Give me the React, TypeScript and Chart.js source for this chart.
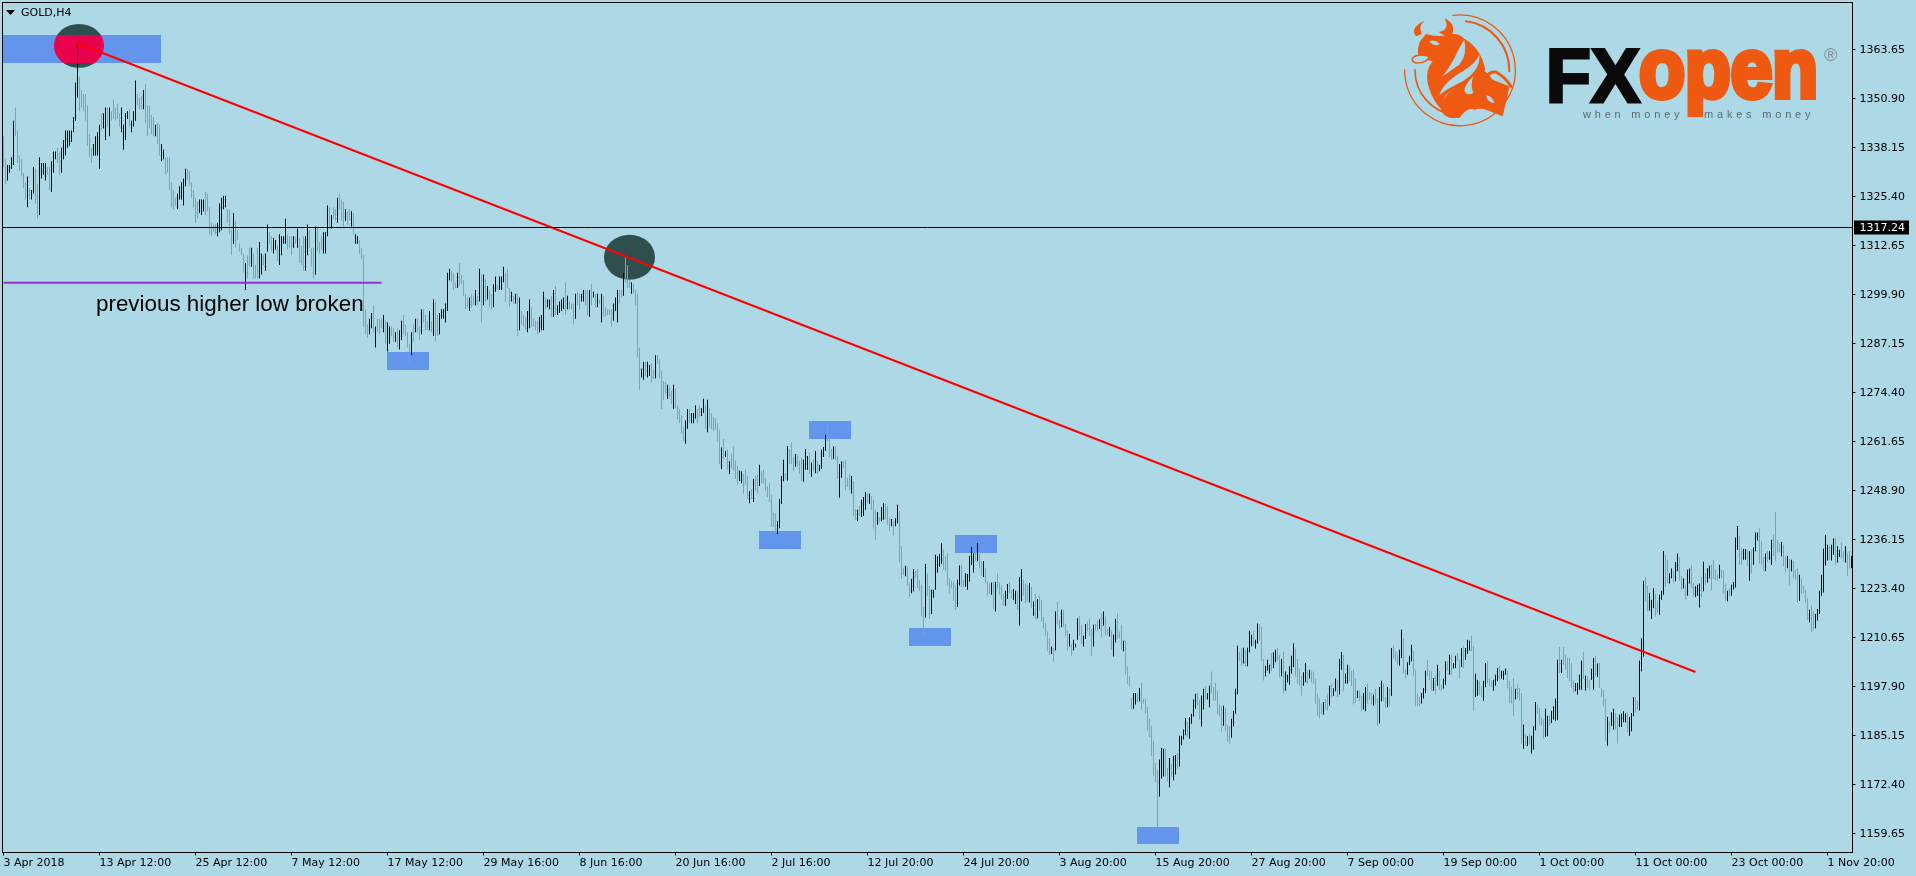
import React, { useEffect, useRef } from "react";
import { Chart, registerables } from "chart.js";

Chart.register(...registerables);

// Each row is [high, low, isUp]; one list per 48 H4 bars, i.e. per time-axis tick.
const bars01 = [[1341,1333,0],[1335,1328.5,0],[1333.5,1329.5,1],[1333.5,1331.5,1],[1335.5,1332.5,1],[1345,1333.5,1],[1348.5,1341,0],[1342.5,1334,0],[1336,1332,0],[1335,1330.5,0],[1331.5,1327.5,0],[1329,1324.5,0],[1330.5,1322.5,1],[1327.5,1324.5,0],[1327,1324.5,1],[1333,1326,1],[1332.5,1323.5,0],[1328.5,1319.5,0],[1335.5,1320.5,1],[1334,1330,1],[1334,1331,1],[1334,1329.5,1],[1333,1331,0],[1333,1327,0],[1334.5,1326.5,1],[1337,1331.5,1],[1337,1335,1],[1338,1334,0],[1337,1331,0],[1338,1331.5,1],[1340,1335,1],[1342.5,1336,1],[1342.5,1338,1],[1342.5,1338.5,1],[1342.5,1339.5,1],[1346,1342,1],[1355,1345,1],[1365.2,1351,1],[1356.5,1347.5,0],[1353,1348.5,0],[1352,1347.5,0],[1352,1345,0],[1349,1338.5,0],[1341.5,1335.5,0],[1338,1334,0],[1339,1336,1],[1341,1336,1],[1342,1336,1]];
const bars02 = [[1344,1332.5,1],[1347,1342.5,0],[1347,1343,1],[1348.5,1340,1],[1348.5,1343.5,0],[1348.5,1341,1],[1347.5,1345,0],[1350.5,1345.5,0],[1348.5,1345,0],[1349.5,1345.5,0],[1347,1343.5,0],[1348.5,1342,1],[1344,1337.5,1],[1347,1340,1],[1347.5,1345.5,1],[1348,1343.5,0],[1345,1342,1],[1347.5,1343.5,1],[1355.5,1345,1],[1352,1349,0],[1351,1348,0],[1351.5,1348,0],[1353,1348,1],[1354.5,1344.5,0],[1349,1341,0],[1349,1343,0],[1346.5,1341.5,0],[1346,1341,0],[1344,1341,1],[1344.5,1339,0],[1344,1336,0],[1339,1334.5,1],[1337.5,1335,1],[1335.5,1331,0],[1335.5,1331.5,0],[1335.5,1327,0],[1329,1322.5,0],[1327,1322,0],[1325,1323,0],[1326,1322,1],[1328,1324.5,1],[1329,1324.5,1],[1330,1323,1],[1332.5,1328,1],[1332.5,1329.5,0],[1332,1328,0],[1329,1325,0],[1327,1322.5,0]];
const bars03 = [[1325,1318.5,0],[1324,1319.5,0],[1324.5,1321,1],[1324.5,1320.5,1],[1324.5,1321.5,1],[1326.5,1320.5,0],[1326,1321.5,0],[1322.5,1315.5,0],[1318.5,1315,0],[1318,1316,0],[1318,1315.5,0],[1318.5,1315,1],[1323.5,1316,1],[1325,1316.5,1],[1325.5,1322,1],[1325.5,1322.5,1],[1322,1318.5,0],[1322,1315.5,0],[1316.5,1310,0],[1321,1313,1],[1319,1312,0],[1316.5,1314,0],[1313,1311,0],[1312,1310,0],[1310.5,1305.5,0],[1308,1301,1],[1310,1304,0],[1312,1307,0],[1312,1307,1],[1310.5,1304,0],[1307.5,1304,0],[1312,1304,0],[1313.5,1304,1],[1310.5,1305,1],[1310,1307.5,0],[1310.5,1306,1],[1318,1311,1],[1316,1313,0],[1315,1311,0],[1314.5,1310.5,1],[1314,1311.5,1],[1312.5,1308.5,0],[1315.5,1307.5,1],[1315,1310,1],[1315,1313,1],[1319.5,1313,1],[1315.5,1311.5,0],[1315,1312,0]];
const bars04 = [[1315,1310,0],[1315,1312,1],[1315,1313,0],[1317,1312,1],[1314.5,1308,0],[1312.5,1307.5,0],[1315,1306,0],[1315,1306,1],[1318,1310,1],[1316.5,1312,0],[1312,1307,0],[1312,1304,0],[1317.5,1305,1],[1317.5,1311,0],[1313.5,1310.5,0],[1315,1311.5,0],[1316,1310.5,1],[1316,1310.5,1],[1323,1315,1],[1322.5,1317,0],[1320.5,1317,1],[1322.5,1319.5,0],[1322,1319,0],[1325,1318.5,1],[1326,1322,0],[1324.5,1319,0],[1324,1317,0],[1322,1319,1],[1321.5,1318,0],[1322,1319,0],[1321.5,1317.5,1],[1321,1315.5,0],[1315.5,1313,1],[1315,1313,1],[1314,1310.5,0],[1312,1309,0],[1310,1291.5,0],[1296,1289.5,0],[1292,1288.5,0],[1293.5,1289.5,1],[1295,1291,1],[1297,1290,0],[1291.5,1286,1],[1293.5,1290,0],[1293.5,1289.5,0],[1293.5,1291,0],[1294.5,1290,1],[1293,1287,0]];
const bars05 = [[1292.5,1285,1],[1291.5,1287,1],[1291.5,1289,0],[1291,1287.5,0],[1290,1287.5,1],[1291,1286,0],[1290.5,1285.5,1],[1293,1288,1],[1294.5,1289.5,0],[1292,1289,0],[1290,1286,0],[1287,1282,0],[1290,1284,1],[1292,1287.5,0],[1293.5,1290,1],[1293.5,1290,0],[1291.5,1288,0],[1296,1289.5,1],[1296,1292.5,0],[1294.5,1290.5,0],[1293,1290.5,0],[1295.5,1290.5,1],[1293,1290,0],[1298.5,1289,1],[1298,1287.5,0],[1294.5,1289,0],[1295,1289.5,1],[1296,1293.5,1],[1296,1293.5,1],[1297.5,1292.5,1],[1305.5,1295.5,1],[1306.5,1303.5,1],[1306,1303,0],[1305.5,1301,0],[1303,1301.5,0],[1305.5,1301.5,1],[1308,1302,0],[1305,1302.5,0],[1303.5,1299.5,0],[1300,1296,0],[1299,1296.5,0],[1299,1295.5,1],[1300,1296.5,0],[1299.5,1297,0],[1301,1297,1],[1299.5,1297,0],[1306.5,1298,1],[1305,1292.5,0]];
const bars06 = [[1305,1297,1],[1304,1298,0],[1302,1298.5,1],[1301,1296.5,0],[1300,1296,0],[1302.5,1296.5,1],[1304.5,1300.5,1],[1302.5,1301,0],[1304.5,1301,1],[1304.5,1301,1],[1307,1303,1],[1305.5,1298,0],[1306.5,1301.5,0],[1301.5,1296.5,0],[1300.5,1298,1],[1299.5,1297.5,0],[1300,1297.5,1],[1300,1289,0],[1299,1290.5,1],[1295.5,1292,0],[1294.5,1291.5,0],[1294,1290.5,0],[1295.5,1290,1],[1298.5,1291,1],[1296.5,1291.5,0],[1293.5,1291.5,0],[1293,1290.5,0],[1293,1289.5,0],[1294,1290,1],[1294.5,1290.5,1],[1300.5,1290.5,1],[1299,1296,0],[1298.5,1296.5,1],[1298.5,1296,1],[1299.5,1294,0],[1301,1294,1],[1302,1294.5,0],[1297,1294.5,1],[1298,1295,1],[1298.5,1295.5,1],[1299,1296,1],[1303,1294.5,0],[1299.5,1296,1],[1298,1296,0],[1297.5,1296,0],[1297.5,1292,0],[1300,1293.5,1],[1300.5,1297,0]];
const bars07 = [[1300,1296,0],[1300,1298,1],[1301,1298,1],[1301,1297,0],[1301,1294.5,0],[1301,1294,1],[1302.5,1297,0],[1300.5,1299,1],[1300,1296.5,0],[1300,1296.5,1],[1298.5,1297.5,0],[1300,1292.5,1],[1299.5,1294,0],[1296.5,1294,0],[1296,1294.5,0],[1296,1294.5,0],[1296,1291.5,0],[1297.5,1293,1],[1299,1295.5,1],[1301,1292.5,1],[1301,1297.5,0],[1301,1299,0],[1305.5,1299.5,1],[1309.5,1303,0],[1307.5,1301.5,0],[1303.5,1301.5,0],[1303,1300,1],[1302.5,1300,0],[1301,1297,0],[1300,1283.5,0],[1286,1275,0],[1280.5,1278.2,1],[1282.3,1277.6,1],[1282.3,1278.6,0],[1282.3,1278.2,1],[1281.5,1278.6,1],[1281.8,1277,0],[1280.5,1277.9,0],[1284,1278,1],[1284,1281.8,0],[1283,1278,0],[1280,1270,0],[1277.3,1272.4,0],[1277,1274,0],[1276.3,1272.6,1],[1275.9,1272.8,0],[1274.8,1271.4,0],[1276.3,1270.1,1]];
const bars08 = [[1275.3,1270.2,0],[1271,1267.2,0],[1270,1266.3,0],[1268.3,1263.7,0],[1265.2,1261.7,0],[1267,1261,1],[1270,1264.9,1],[1270,1266.3,0],[1269,1266.3,1],[1269,1266.3,1],[1271,1267.5,1],[1270,1266.3,0],[1271,1268,0],[1270.2,1268.2,1],[1272.7,1269,1],[1271,1264.9,0],[1272.4,1264,1],[1270.3,1265.3,0],[1269,1264.8,0],[1268,1264.2,0],[1267.6,1264.6,0],[1266.3,1261.5,0],[1264.6,1255.7,0],[1260,1254.4,1],[1262.2,1256.8,0],[1259.1,1257.5,1],[1259.4,1254.2,0],[1256.4,1253.1,1],[1258.5,1254.6,0],[1260.3,1254,0],[1256.6,1251.8,0],[1255.2,1250.3,0],[1254,1251.3,1],[1253.8,1250.7,1],[1253.1,1248,0],[1254.2,1250.3,0],[1252.6,1246.6,0],[1248.6,1245.5,1],[1249.2,1246.6,0],[1251.8,1245.8,1],[1252.6,1248.7,0],[1252.9,1248.1,0],[1255.5,1250,1],[1253.8,1250.7,0],[1254.2,1250.5,0],[1252,1248.6,0],[1249.9,1247.1,0],[1250.7,1245.8,0]];
const bars09 = [[1247.7,1239.3,0],[1243.1,1239.3,0],[1242.9,1238,0],[1240.9,1237.5,1],[1246.6,1239,1],[1252.6,1245.3,1],[1256.8,1251.2,1],[1253.3,1251.6,0],[1260.4,1251.4,1],[1259.6,1255.7,0],[1261.3,1255.7,0],[1257.5,1253.8,0],[1258.3,1255,1],[1258.1,1255.2,0],[1256.6,1253.1,0],[1257.4,1251.3,0],[1256.8,1251.1,1],[1259.6,1254.2,1],[1257.8,1254.2,1],[1258.7,1253.1,0],[1256.1,1252.4,1],[1257,1253.8,0],[1259.1,1253.3,1],[1256.5,1253.1,0],[1255.5,1253.8,1],[1259.4,1254.4,1],[1260.1,1257.5,1],[1263.3,1259.1,1],[1265.9,1261.7,0],[1263,1257.5,0],[1259.6,1256.8,0],[1260.3,1257,1],[1260.3,1256.8,0],[1257.7,1251.8,0],[1255.7,1246.9,1],[1256.4,1252.1,1],[1256.4,1254.6,0],[1256.8,1248.8,0],[1252.1,1249.7,0],[1253.3,1249,0],[1252.6,1248,1],[1251.3,1242.2,0],[1244,1241.2,0],[1243.8,1240.9,1],[1244.8,1242.2,0],[1246.4,1241.9,1],[1247.1,1242.2,1],[1248.4,1243.8,1]];
const bars10 = [[1248,1245.5,0],[1248,1245.3,1],[1247.4,1243.8,0],[1246.4,1238.9,0],[1243.8,1236,0],[1243.2,1239.9,1],[1241.9,1240.5,0],[1244.5,1240.8,1],[1245.5,1241.2,1],[1245.4,1241.4,0],[1244.8,1239.9,0],[1241.6,1238.2,0],[1241.4,1239.5,1],[1240.8,1237.1,0],[1241.6,1239.5,1],[1245.1,1240.2,1],[1243.5,1230.1,0],[1234.4,1225.8,0],[1228.6,1226.9,0],[1229.2,1226.5,1],[1228.9,1224.1,0],[1224.7,1221,0],[1225.8,1222.1,1],[1228.4,1222.6,1],[1227.9,1226.2,0],[1228.4,1223.4,0],[1225.6,1222.6,0],[1224.3,1216,0],[1218.5,1211.1,0],[1229.7,1215.7,1],[1227.3,1221.4,0],[1224,1215.4,0],[1223,1216.7,1],[1223,1220.9,1],[1232.1,1223,1],[1231.7,1227.5,1],[1232.3,1229,1],[1235.1,1229.7,1],[1233.4,1228.2,0],[1231.7,1227.8,0],[1232.5,1224,0],[1226,1222,0],[1225.3,1223.4,0],[1225.1,1220.1,0],[1224.3,1217.8,0],[1225.6,1218.5,1],[1229.3,1224.1,1],[1229.5,1223.8,0]];
const bars11 = [[1225.6,1223.7,0],[1227.3,1223.8,1],[1227.1,1223,1],[1231.8,1225.1,1],[1234.1,1229.5,1],[1232.5,1227.5,1],[1233.4,1230.4,0],[1235.1,1230.4,1],[1233.2,1228.6,0],[1230.4,1226.6,0],[1230.5,1226.3,1],[1228.6,1224.7,0],[1225.3,1221.5,0],[1224.7,1221.9,0],[1224.9,1221.7,1],[1225.1,1218,0],[1225,1217.3,1],[1227.3,1223.4,0],[1224.9,1221.7,0],[1224,1220.4,0],[1221.9,1218.8,0],[1222.7,1218.8,1],[1224.5,1220.6,1],[1225,1222.1,0],[1223,1220.8,0],[1223.2,1220.4,1],[1222.7,1219.3,1],[1222.6,1217.8,0],[1226.3,1213.6,1],[1228.4,1220,1],[1225.6,1221.5,0],[1224.7,1219.5,0],[1224.3,1220,0],[1224.7,1219.7,1],[1223.8,1218.2,0],[1219.9,1216.2,1],[1221.9,1215.2,0],[1220.6,1215.6,1],[1221.4,1217.6,0],[1220.4,1214.7,0],[1215.9,1213,0],[1214.3,1211,0],[1212.1,1207,0],[1210.4,1206.1,0],[1208.2,1206.3,1],[1207.8,1204.3,0],[1217.3,1207.2,1],[1219.8,1214.1,0]];
const bars12 = [[1215.2,1212.8,0],[1217.8,1213.2,1],[1217.8,1213.4,0],[1214.1,1211,0],[1212.4,1207.2,0],[1211.5,1208.2,1],[1208.9,1205.8,0],[1210,1207.2,1],[1208.9,1208,1],[1215.6,1210,1],[1216.2,1211,0],[1213.9,1208.9,0],[1211,1208.2,1],[1214.1,1210.2,1],[1214.7,1212.1,0],[1215.6,1211,0],[1212.8,1205.8,0],[1213.9,1208.2,1],[1214.1,1212.4,0],[1215,1212.1,0],[1215.4,1212.8,1],[1216.9,1210.6,0],[1217.3,1213.6,1],[1216,1211,0],[1212.8,1211.3,0],[1213.3,1210.8,1],[1212.4,1207.4,0],[1211.3,1205.6,1],[1215.4,1209.3,1],[1216.9,1210.2,0],[1212.1,1210.4,0],[1213.9,1207.4,0],[1209.7,1207,1],[1209.7,1200.9,0],[1203,1198.5,0],[1200.4,1197.8,0],[1194.8,1191.8,0],[1196.1,1192,1],[1196.1,1193.1,1],[1195.9,1193.7,0],[1197.4,1194,1],[1198.7,1191.8,0],[1194.6,1193.3,0],[1194.6,1190.7,0],[1192.5,1186.3,0],[1189.4,1184.7,0],[1187.6,1179.8,0],[1183.7,1174.6,0]];
const bars13 = [[1177.9,1172.9,0],[1176.2,1159.7,0],[1178.8,1169.2,1],[1181.8,1173.8,1],[1181.6,1174.4,1],[1181.6,1174.4,0],[1176.6,1173.1,0],[1179.2,1171.6,1],[1177.7,1174.3,0],[1179.8,1173.4,1],[1180,1174.9,1],[1180.5,1176.4,0],[1185,1177,1],[1185,1182.5,1],[1186.6,1184,1],[1189.6,1185.1,1],[1188.6,1184.6,0],[1189.9,1184.2,1],[1190.7,1188.1,1],[1194.4,1190,1],[1195.9,1192,1],[1196.1,1192.9,0],[1194.4,1189.2,0],[1195.5,1187.4,1],[1197.2,1191.8,1],[1197.8,1194.4,0],[1196.1,1194.4,1],[1198,1192.4,1],[1201.7,1196,0],[1197.7,1194.1,0],[1198.7,1194.1,0],[1196.7,1190.5,0],[1193.1,1190,0],[1192.7,1186.1,0],[1192.8,1187.6,1],[1192.2,1186.3,0],[1187.9,1183.5,0],[1187.5,1183,0],[1189.4,1184.5,1],[1191.5,1187.5,1],[1197.2,1190.7,1],[1208.4,1195.7,1],[1206.7,1204.5,0],[1207.9,1203.2,0],[1207.9,1203.8,1],[1207.4,1203.1,0],[1207.9,1203.1,1],[1212.3,1206.7,1]];
const bars14 = [[1211.3,1208.3,1],[1212.4,1208.4,0],[1210,1207.7,1],[1214.2,1209,1],[1214.1,1209.7,0],[1213.3,1204.4,0],[1205,1199.4,0],[1203.2,1200.5,1],[1204.8,1202,1],[1203.5,1201.2,1],[1206.5,1201.8,0],[1206.7,1202.6,1],[1207.4,1204.1,1],[1207.8,1204.4,0],[1206.1,1200.2,0],[1205,1200.5,1],[1206.9,1196,0],[1201.7,1196.7,1],[1200.9,1198.9,1],[1203.1,1198.3,1],[1205.8,1201.1,1],[1209,1202.9,1],[1207.7,1200.5,0],[1205,1198.5,0],[1202.5,1198,0],[1200.6,1195.5,0],[1201.5,1198,1],[1203.9,1198.9,1],[1202,1198.5,0],[1202.2,1199.9,1],[1202,1198.9,0],[1201.7,1198.5,0],[1199.8,1193.3,0],[1195.9,1190.2,0],[1194.6,1189.5,0],[1193.3,1190.5,0],[1193.8,1190.5,1],[1194.6,1191.8,0],[1196,1191.6,0],[1198,1192.8,1],[1198.6,1195,0],[1197.3,1195.4,1],[1199.9,1196.6,1],[1199.6,1195.1,0],[1205,1195.7,1],[1206.8,1202.2,1],[1206.1,1196.6,0],[1201.2,1198.6,1]];
const bars15 = [[1203.5,1198.6,1],[1203.1,1199.2,0],[1201.9,1198,0],[1202.2,1193.1,0],[1199.9,1193.5,0],[1196.7,1194.8,1],[1196.7,1194,0],[1195.4,1191.4,0],[1196.1,1191.8,1],[1197.7,1191.4,1],[1198.6,1193.4,0],[1196.4,1194.4,0],[1196.1,1193.1,0],[1195.7,1192.8,1],[1197.2,1193.1,0],[1194.8,1187.5,0],[1197.7,1188.2,1],[1199.3,1194,1],[1198.6,1194.1,0],[1195.1,1192.2,0],[1197.7,1192.4,1],[1197.3,1192.7,0],[1207.8,1195.4,1],[1208.4,1205.1,0],[1207.1,1204.5,0],[1206.1,1203.5,0],[1207.4,1203.2,1],[1212.6,1205.2,1],[1210.4,1201.2,0],[1202.4,1199.9,0],[1204.1,1200.9,1],[1205.8,1203.5,1],[1208.7,1204.4,1],[1207.1,1200.6,0],[1202.2,1192.7,0],[1196,1192.7,0],[1195.1,1192.7,0],[1196.1,1193.4,1],[1197.4,1194.7,1],[1201.9,1196.1,1],[1204.8,1200.5,0],[1201.9,1199.6,0],[1201.8,1196.8,0],[1200,1196.7,1],[1200.9,1195.7,0],[1203.5,1198,1],[1201.9,1197,0],[1198.3,1196.7,0]];
const bars16 = [[1199.8,1197.3,1],[1204.4,1198.3,1],[1204.4,1201.9,0],[1206.1,1200.9,1],[1206.1,1200.9,0],[1203.9,1202.5,1],[1205.8,1202.6,1],[1206.5,1204.5,0],[1204.8,1199.9,0],[1207.8,1202.9,1],[1208.4,1202.6,0],[1207.8,1204.8,1],[1210,1206.3,1],[1209.7,1207.2,1],[1211,1207,0],[1208.3,1191.5,0],[1201.1,1195.1,1],[1199.6,1195.4,1],[1199.3,1195.7,0],[1198,1195,0],[1199.3,1194.1,1],[1203.9,1197.6,1],[1204.4,1198.6,0],[1199.9,1198,0],[1199.3,1197.7,0],[1199.6,1196.7,1],[1200.9,1198,1],[1202.6,1199.2,1],[1203.2,1199.6,0],[1201.9,1199.8,1],[1201.9,1199.6,1],[1202.5,1200.9,1],[1201.9,1197.3,0],[1199.3,1193.5,0],[1197.7,1193.4,0],[1200,1190.2,0],[1197.2,1194.4,1],[1198.6,1194.8,0],[1197.4,1194.1,0],[1196.1,1183,0],[1187.9,1181.6,1],[1185.3,1182.3,0],[1184.9,1182.3,1],[1185.5,1182.7,0],[1185,1180.3,1],[1187.5,1181.4,1],[1193.8,1186.4,1],[1193.1,1190.8,0]];
const bars17 = [[1192.2,1187.9,0],[1189.8,1187.6,0],[1189.2,1184.2,0],[1192,1184.7,1],[1190.2,1184.9,1],[1190.2,1187.6,0],[1191.5,1188.3,1],[1192.7,1189.2,1],[1194.6,1188.9,1],[1204.8,1189,1],[1208.1,1201.3,0],[1204.8,1201.3,1],[1208.1,1203.5,0],[1206.1,1202.2,0],[1205.2,1200,0],[1205.2,1199.2,0],[1203.9,1197.4,0],[1199.4,1196.3,0],[1198.7,1196.6,1],[1198.7,1195.7,1],[1200.9,1197,1],[1204.6,1197,1],[1206.7,1199.8,0],[1200.6,1196.8,1],[1200.5,1197.4,0],[1199.6,1197,0],[1202.4,1199.6,1],[1205.2,1197,1],[1205.8,1200.5,0],[1203.8,1200.3,1],[1203.9,1197.4,0],[1197.4,1195.1,0],[1197,1192.7,0],[1194.6,1183.7,0],[1189.9,1182.4,1],[1188.8,1185.7,0],[1191.1,1187.6,1],[1192,1186.6,1],[1190.9,1186.6,0],[1189.9,1183,0],[1190.5,1187.3,1],[1190.8,1187.3,1],[1191.4,1188.5,1],[1190.8,1188.5,1],[1191.1,1185.9,0],[1189.9,1185,1],[1190.9,1186.2,1],[1195,1190.1,1]];
const bars18 = [[1195.1,1191.1,0],[1194.1,1191.8,0],[1204.6,1191.6,1],[1210.4,1201.8,1],[1225.3,1205.6,1],[1226.3,1220,0],[1224,1217.4,0],[1222.1,1217.6,1],[1220.4,1215.4,1],[1223.4,1218.2,1],[1222,1216,0],[1220.2,1216.9,0],[1221.7,1216.5,1],[1222.7,1220.4,1],[1233.1,1221.7,1],[1232.1,1223.7,0],[1230.8,1224.6,0],[1227.3,1224.6,1],[1228.5,1226,1],[1227.9,1224.7,0],[1230.2,1225.2,1],[1232.4,1227.8,1],[1231.4,1225.3,0],[1226.6,1223,0],[1225.9,1223.4,1],[1224.3,1220.4,0],[1228.2,1221.4,1],[1228.5,1224.6,1],[1229.5,1223.4,0],[1224.7,1221.3,0],[1223.9,1221.1,1],[1224.3,1221.4,1],[1224.6,1218.4,1],[1226.3,1221,0],[1230.3,1222.6,1],[1227.3,1224.3,0],[1228.6,1224.9,1],[1229.2,1226,1],[1229.5,1222.8,0],[1230.8,1225.8,0],[1228.2,1225.4,0],[1226.9,1225.3,0],[1229.5,1225.9,1],[1228.2,1226,0],[1227.9,1222,0],[1224.6,1220.1,0],[1222.7,1220,1],[1223.4,1221.3,0]];
const bars19 = [[1224.3,1221.4,1],[1225,1223,1],[1236.6,1223.6,1],[1239.6,1233.4,1],[1237,1229.5,0],[1233.7,1229.5,0],[1233.6,1230.8,1],[1233.6,1230.8,1],[1233.4,1229.1,0],[1233,1225.3,1],[1233.4,1227.2,0],[1234,1229.5,1],[1237.9,1233,1],[1237.9,1235.8,1],[1239,1229.8,0],[1235.6,1229.5,0],[1231.5,1228,0],[1232.4,1227.8,1],[1233.1,1230.2,0],[1233,1230.8,1],[1236,1229.5,1],[1237.3,1231.8,0],[1243.2,1230.4,0],[1236,1232.7,0],[1235.1,1232.7,0],[1235.4,1231.7,1],[1234.7,1229.1,0],[1231.7,1227.5,0],[1231.8,1228.6,1],[1231,1224,0],[1230.8,1227.8,1],[1230.5,1226,0],[1228.2,1225.6,0],[1228.6,1219.7,0],[1226.9,1220.1,1],[1226,1222,0],[1224,1222,0],[1223,1219.5,0],[1220.8,1215.2,0],[1217.8,1214.5,1],[1218.8,1211.9,0],[1217.4,1212.3,0],[1216.7,1213,1],[1218,1215,1],[1222.7,1216.7,1],[1226.9,1221.4,1],[1233.7,1222.3,1],[1237.3,1229.3,1]];
const bars20 = [[1234.7,1230.6,1],[1234.5,1230.8,0],[1234.7,1230.6,1],[1236.3,1232.1,1],[1236.6,1229.5,0],[1234.3,1230.1,1],[1233.4,1231.5,1],[1235.3,1231.2,0],[1233,1230.4,0],[1234.3,1230.1,1],[1232.7,1226.6,0],[1233.1,1228.5,0],[1231.8,1228.6,1]];
const barLists = [bars01,bars02,bars03,bars04,bars05,bars06,bars07,bars08,bars09,bars10,bars11,bars12,bars13,bars14,bars15,bars16,bars17,bars18,bars19,bars20];

const timeLabels = ["3 Apr 2018","13 Apr 12:00","25 Apr 12:00","7 May 12:00","17 May 12:00","29 May 16:00","8 Jun 16:00","20 Jun 16:00","2 Jul 16:00","12 Jul 20:00","24 Jul 20:00","3 Aug 20:00","15 Aug 20:00","27 Aug 20:00","7 Sep 00:00","19 Sep 00:00","1 Oct 00:00","11 Oct 00:00","23 Oct 00:00","1 Nov 20:00"];
const priceTicks = [1159.65,1172.4,1185.15,1197.9,1210.65,1223.4,1236.15,1248.9,1261.65,1274.4,1287.15,1299.9,1312.65,1325.4,1338.15,1350.9,1363.65];
const lastPrice = 1317.24;
const supportPrice = 1302.9;
const trendFrom = [37, 1365.2];
const trendTo = [846, 1201.6];
const supportEnd = 189;
// [first bar, last bar, top price, bottom price]
const zones = [[-0.25,78.75,1367.4,1360.1],[191.75,212.75,1284.9,1280.2],[402.75,423.75,1267,1262.3],[377.75,398.75,1238.3,1233.6],[452.75,473.75,1213.1,1208.4],[475.75,496.75,1237.3,1232.6],[566.75,587.75,1161.3,1156.9]];
// [centre bar, centre price, bar radius, price radius]
const circles = [[37.75,1364.5,12.5,5.72],[313,1309.5,12.75,5.85]];
const noteText = "previous higher low broken";
const notePos = [46.25, 1295.6];

const BG = "#ADD8E6", UP = "#000000", DOWN = "#E58C17", ORANGE = "#EE5A11";
const UI_FONT = '11px "DejaVu Sans"';

const bullBody = "M72,100 L90,78 Q125,88 150,82 Q185,70 205,92 Q255,120 268,185 Q250,195 230,215 Q170,240 150,260 Q130,290 160,325 Q110,290 95,225 Q88,185 110,160 L70,150 Q60,130 72,100 Z";
const bullLower = "M135,290 Q150,250 200,225 Q240,205 262,185 Q280,200 290,215 L340,235 L335,260 L320,325 L270,305 Q250,300 235,305 Q215,295 190,330 L165,330 Q130,320 135,290 Z";
const bullHorns = ["M60,85 Q40,60 85,38 Q65,55 78,78 Z","M128,72 Q165,65 145,30 Q185,50 165,85 Q150,88 128,72 Z"];
const bullCuts = ["M205,95 Q215,140 190,170 Q160,190 140,205 Q170,165 185,130 Q195,110 205,95 Z","M250,140 Q255,185 200,220 Q140,250 130,262 Q140,225 200,190 Q240,165 250,140 Z","M232,205 Q205,230 205,250 Q215,265 232,255 Q222,230 232,205 Z","M100,100 Q115,92 132,108 Q115,118 100,100 Z","M270,262 Q290,265 295,285 Q275,285 270,262 Z"];
const bullMuzzle = "M50,150 Q65,135 100,145 Q95,165 60,165 Q45,160 50,150 Z";
const bullCrest = "M270,215 Q275,190 300,192 Q325,205 345,235";

function drawLogo(ctx: CanvasRenderingContext2D) {
  ctx.save();
  ctx.translate(1396, 8);
  ctx.scale(1 / 3, 1 / 3);
  ctx.strokeStyle = ORANGE;
  ctx.fillStyle = ORANGE;
  ctx.lineCap = "round";
  ctx.lineWidth = 4;
  ctx.beginPath(); ctx.arc(192, 187, 166, -1.7, 3.15); ctx.stroke();
  ctx.lineWidth = 6;
  ctx.beginPath(); ctx.arc(192, 187, 148, -1.45, 0.02); ctx.stroke();
  ctx.lineWidth = 5;
  ctx.beginPath(); ctx.arc(192, 187, 135, 1.7, 3.15); ctx.stroke();
  ctx.fill(new Path2D(bullBody));
  ctx.fill(new Path2D(bullLower));
  bullHorns.forEach((d) => ctx.fill(new Path2D(d)));
  ctx.fillStyle = BG;
  bullCuts.forEach((d) => ctx.fill(new Path2D(d)));
  const muzzle = new Path2D(bullMuzzle);
  ctx.fill(muzzle);
  ctx.lineWidth = 5;
  ctx.stroke(muzzle);
  ctx.lineWidth = 9;
  ctx.stroke(new Path2D(bullCrest));
  ctx.restore();

  const stretched = (text: string, font: string, color: string, left: number, right: number, baseline: number, stroke: number) => {
    ctx.save();
    ctx.font = font;
    ctx.textAlign = "left";
    ctx.textBaseline = "alphabetic";
    const m = ctx.measureText(text);
    const sx = (right - left - stroke) / (m.actualBoundingBoxRight + m.actualBoundingBoxLeft);
    ctx.translate(left + stroke / 2 + m.actualBoundingBoxLeft * sx, baseline);
    ctx.scale(sx, 1);
    ctx.fillStyle = color;
    ctx.strokeStyle = color;
    ctx.lineWidth = stroke;
    ctx.lineJoin = "miter";
    ctx.fillText(text, 0, 0);
    ctx.strokeText(text, 0, 0);
    ctx.restore();
  };
  stretched("FX", 'bold 76px "Liberation Sans"', "#0A0A0A", 1549, 1642, 101.5, 3);
  stretched("open", 'bold 84px "Liberation Sans"', ORANGE, 1639, 1817, 97, 6);

  ctx.save();
  ctx.fillStyle = "#5A6C74";
  ctx.font = '11px "Liberation Sans"';
  ctx.textBaseline = "alphabetic";
  (ctx as any).letterSpacing = "3.8px";
  ctx.fillText("when money", 1583, 118);
  ctx.fillText("makes money", 1704, 118);
  (ctx as any).letterSpacing = "0px";
  ctx.font = '18px "Liberation Sans"';
  ctx.fillStyle = "#7F929A";
  ctx.fillText("®", 1824, 61);
  ctx.restore();
}

const overlayPlugin = {
  id: "overlay",
  beforeDatasetsDraw(chart: any) {
    const { ctx, scales } = chart;
    const X = (v: number) => scales.x.getPixelForValue(v);
    const Y = (v: number) => scales.y.getPixelForValue(v);
    const ellipse = (c: number[]) => {
      ctx.beginPath();
      ctx.ellipse(X(c[0]), Y(c[1]), c[2] * 2, c[3] * 3.843, 0, 0, Math.PI * 2);
    };
    ctx.save();
    ctx.fillStyle = "#2F4F4F";
    circles.forEach((c) => { ellipse(c); ctx.fill(); });
    ctx.fillStyle = "#6495ED";
    zones.forEach((z) => ctx.fillRect(Math.round(X(z[0])), Math.round(Y(z[2])), Math.round(X(z[1]) - X(z[0])), Math.round(Y(z[3]) - Y(z[2]))));
    const z0 = zones[0];
    ctx.save();
    ctx.beginPath();
    ctx.rect(Math.round(X(z0[0])), Math.round(Y(z0[2])), Math.round(X(z0[1]) - X(z0[0])), Math.round(Y(z0[3]) - Y(z0[2])));
    ctx.clip();
    ctx.fillStyle = "#E8004C";
    ellipse(circles[0]);
    ctx.fill();
    ctx.restore();
    ctx.fillStyle = "#000";
    ctx.font = '22.4px "Liberation Sans"';
    ctx.textAlign = "left";
    ctx.textBaseline = "alphabetic";
    ctx.fillText(noteText, X(notePos[0]), Y(notePos[1]));
    ctx.restore();
  },
  afterDraw(chart: any) {
    const { ctx, scales, chartArea } = chart;
    ctx.save();
    ctx.strokeStyle = "#000";
    ctx.lineWidth = 1;
    ctx.strokeRect(chartArea.left, chartArea.top, chartArea.right - chartArea.left, chartArea.bottom - chartArea.top);
    ctx.fillStyle = "#000";
    ctx.beginPath();
    ctx.moveTo(6, 10); ctx.lineTo(15, 10); ctx.lineTo(10.5, 15); ctx.closePath(); ctx.fill();
    ctx.font = UI_FONT;
    ctx.textAlign = "left";
    ctx.textBaseline = "middle";
    ctx.fillText("GOLD,H4", 21, 13);
    const y = scales.y.getPixelForValue(lastPrice);
    ctx.fillStyle = "#000";
    ctx.fillRect(1854, y - 7, 55, 14);
    ctx.fillStyle = "#fff";
    ctx.fillText(lastPrice.toFixed(2), 1859.5, y + 0.5);
    drawLogo(ctx);
    ctx.restore();
  },
};

export default function App() {
  const ref = useRef<HTMLCanvasElement>(null);
  useEffect(() => {
    document.body.style.margin = "0";
    document.body.style.background = BG;
    const barData: any[] = [];
    const colors: string[] = [];
    barLists.forEach((list, k) => {
      list.forEach((b, j) => {
        barData.push({ x: k * 48 + j, y: [b[1], b[0]] });
        colors.push(b[2] ? UP : DOWN);
      });
    });
    const last = 924;
    const xTicks = timeLabels.map((_, k) => k * 48);
    const flat = (color: string, width: number, data: any[]) => ({
      type: "line", data, borderColor: color, borderWidth: width, pointRadius: 0, fill: false, tension: 0, order: 0,
    });
    const chart = new Chart(ref.current as HTMLCanvasElement, {
      type: "bar",
      data: {
        datasets: [
          flat("#000000", 1, [{ x: -0.5, y: lastPrice }, { x: last + 0.5, y: lastPrice }]),
          flat("#FF0000", 2, [{ x: trendFrom[0], y: trendFrom[1] }, { x: trendTo[0], y: trendTo[1] }]),
          flat("#9932CC", 2, [{ x: 0, y: supportPrice }, { x: supportEnd, y: supportPrice }]),
          { type: "bar", data: barData, backgroundColor: colors, barThickness: 1, borderWidth: 0, inflateAmount: 0, order: 2, borderSkipped: false },
        ] as any,
      },
      options: {
        animation: false,
        responsive: false,
        devicePixelRatio: 1,
        layout: { autoPadding: false, padding: { left: 2.5, top: 2.5, right: 0, bottom: 0 } },
        plugins: { legend: { display: false }, tooltip: { enabled: false } },
        scales: {
          x: {
            type: "linear",
            offset: false,
            min: -0.5,
            max: last + 0.5,
            grid: { display: true, drawOnChartArea: false, drawTicks: true, tickLength: 3, tickColor: "#000", offset: false },
            border: { display: true, color: "#000", width: 1 },
            ticks: {
              autoSkip: false, maxRotation: 0, minRotation: 0, align: "start", padding: 1, color: "#000",
              font: { family: "DejaVu Sans", size: 11 },
              callback: (_v: any, i: number) => timeLabels[i],
            },
            afterBuildTicks: (s: any) => { s.ticks = xTicks.map((value) => ({ value })); },
            afterFit: (s: any) => { s.height = 23.5; s.paddingLeft = 0; s.paddingRight = 0; },
          },
          y: {
            position: "right",
            beginAtZero: false,
            min: 1154.62,
            max: 1375.79,
            grid: { display: true, drawOnChartArea: false, drawTicks: true, tickLength: 3, tickColor: "#000" },
            border: { display: true, color: "#000", width: 1 },
            ticks: {
              autoSkip: false, padding: 4, labelOffset: 1, color: "#000",
              font: { family: "DejaVu Sans", size: 11 },
              callback: (v: any) => Number(v).toFixed(2),
            },
            afterBuildTicks: (s: any) => { s.ticks = priceTicks.map((value) => ({ value })); },
            afterFit: (s: any) => { s.width = 63.5; s.paddingTop = 0; s.paddingBottom = 0; },
          },
        },
      } as any,
      plugins: [overlayPlugin],
    } as any);
    return () => chart.destroy();
  }, []);
  return (
    <div style={{ position: "fixed", left: 0, top: 0, width: 1916, height: 876, background: BG }}>
      <canvas ref={ref} width={1916} height={876} style={{ display: "block" }} />
    </div>
  );
}
